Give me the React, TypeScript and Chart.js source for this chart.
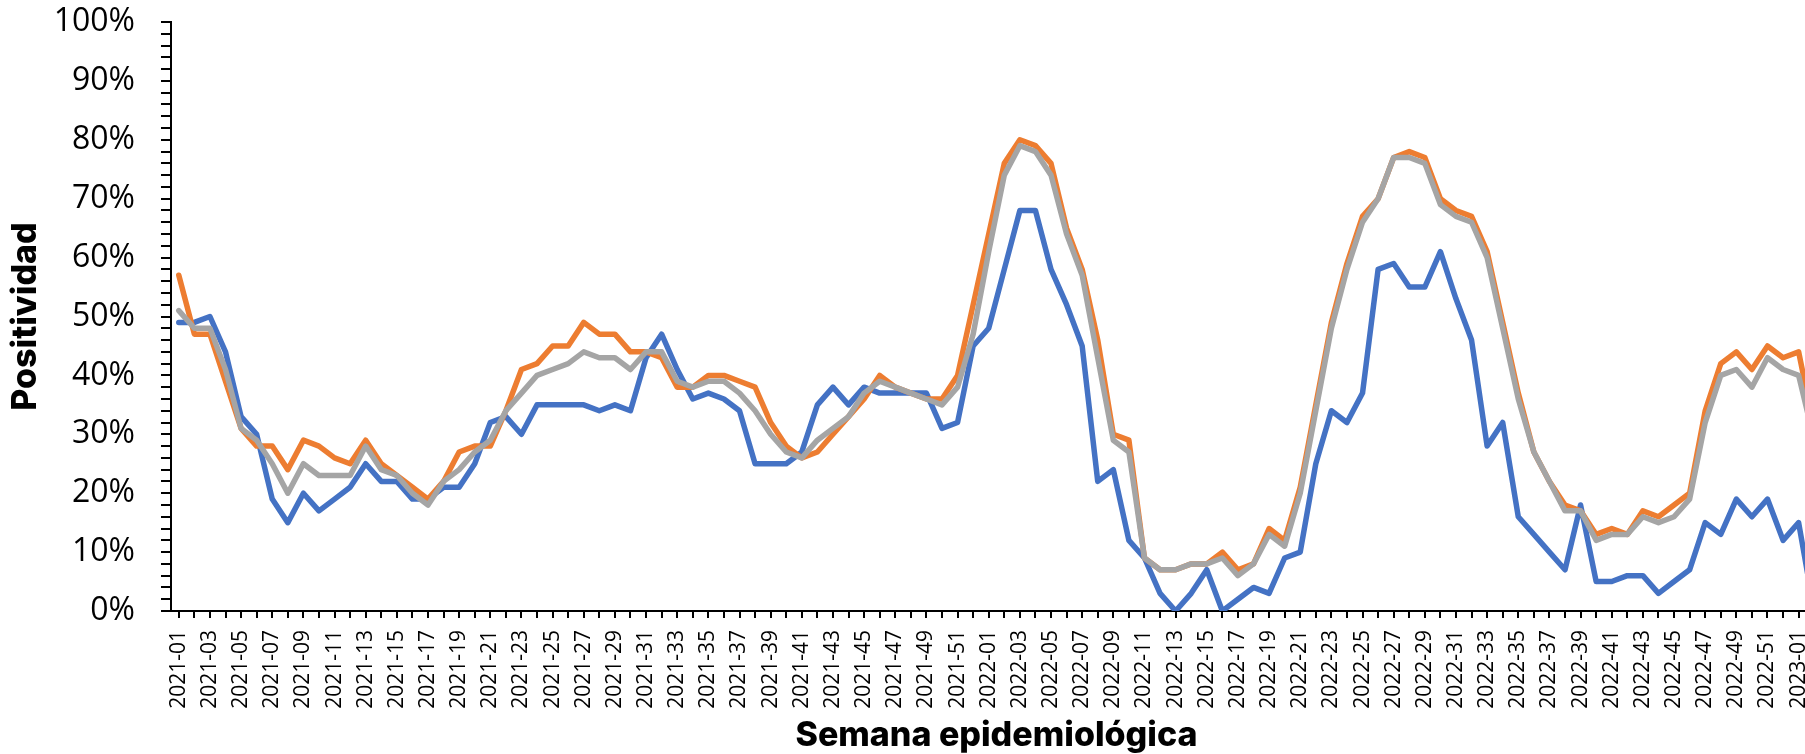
import { useEffect, useRef } from 'react';
import { Chart, registerables } from 'chart.js';

Chart.register(...registerables);

const CATEGORIES = [
  '2021-01','2021-02','2021-03','2021-04','2021-05','2021-06','2021-07','2021-08','2021-09','2021-10',
  '2021-11','2021-12','2021-13','2021-14','2021-15','2021-16','2021-17','2021-18','2021-19','2021-20',
  '2021-21','2021-22','2021-23','2021-24','2021-25','2021-26','2021-27','2021-28','2021-29','2021-30',
  '2021-31','2021-32','2021-33','2021-34','2021-35','2021-36','2021-37','2021-38','2021-39','2021-40',
  '2021-41','2021-42','2021-43','2021-44','2021-45','2021-46','2021-47','2021-48','2021-49','2021-50',
  '2021-51','2021-52',
  '2022-01','2022-02','2022-03','2022-04','2022-05','2022-06','2022-07','2022-08','2022-09','2022-10',
  '2022-11','2022-12','2022-13','2022-14','2022-15','2022-16','2022-17','2022-18','2022-19','2022-20',
  '2022-21','2022-22','2022-23','2022-24','2022-25','2022-26','2022-27','2022-28','2022-29','2022-30',
  '2022-31','2022-32','2022-33','2022-34','2022-35','2022-36','2022-37','2022-38','2022-39','2022-40',
  '2022-41','2022-42','2022-43','2022-44','2022-45','2022-46','2022-47','2022-48','2022-49','2022-50',
  '2022-51','2022-52',
  '2023-01','2023-02',
];

const SERIES_BLUE = [
  49, 49, 50, 44, 33, 30, 19, 15, 20, 17,
  19, 21, 25, 22, 22, 19, 19, 21, 21, 25,
  32, 33, 30, 35, 35, 35, 35, 34, 35, 34,
  43, 47, 41, 36, 37, 36, 34, 25, 25, 25,
  27, 35, 38, 35, 38, 37, 37, 37, 37, 31,
  32, 45, 48, 58, 68, 68, 58, 52, 45, 22,
  24, 12, 9, 3, 0, 3, 7, 0, 2, 4,
  3, 9, 10, 25, 34, 32, 37, 58, 59, 55,
  55, 61, 53, 46, 28, 32, 16, 13, 10, 7,
  18, 5, 5, 6, 6, 3, 5, 7, 15, 13,
  19, 16, 19, 12, 15, 0,
];

const SERIES_ORANGE = [
  57, 47, 47, 39, 31, 28, 28, 24, 29, 28,
  26, 25, 29, 25, 23, 21, 19, 22, 27, 28,
  28, 34, 41, 42, 45, 45, 49, 47, 47, 44,
  44, 43, 38, 38, 40, 40, 39, 38, 32, 28,
  26, 27, 30, 33, 36, 40, 38, 37, 36, 36,
  40, 52, 64, 76, 80, 79, 76, 65, 58, 46,
  30, 29, 9, 7, 7, 8, 8, 10, 7, 8,
  14, 12, 21, 35, 49, 59, 67, 70, 77, 78,
  77, 70, 68, 67, 61, 49, 37, 27, 22, 18,
  17, 13, 14, 13, 17, 16, 18, 20, 34, 42,
  44, 41, 45, 43, 44, 31,
];

const SERIES_GRAY = [
  51, 48, 48, 41, 31, 29, 25, 20, 25, 23,
  23, 23, 28, 24, 23, 20, 18, 22, 24, 27,
  29, 34, 37, 40, 41, 42, 44, 43, 43, 41,
  44, 44, 39, 38, 39, 39, 37, 34, 30, 27,
  26, 29, 31, 33, 37, 39, 38, 37, 36, 35,
  38, 47, 61, 74, 79, 78, 74, 64, 57, 43,
  29, 27, 9, 7, 7, 8, 8, 9, 6, 8,
  13, 11, 20, 34, 48, 58, 66, 70, 77, 77,
  76, 69, 67, 66, 60, 48, 36, 27, 22, 17,
  17, 12, 13, 13, 16, 15, 16, 19, 32, 40,
  41, 38, 43, 41, 40, 29,
];

const X_TITLE = 'Semana epidemiológica';
const Y_TITLE = 'Positividad';

const CANVAS_W = 1822;
const CANVAS_H = 760;
const PLOT_LEFT = 171;
const PLOT_BOTTOM = 611;

export default function App() {
  const ref = useRef<HTMLCanvasElement>(null);

  useEffect(() => {
    if (!ref.current) return;
    const tickFont = "'Open Sans', 'Liberation Sans', sans-serif";
    const titleFont = "Inter, 'Open Sans', sans-serif";
    const line = (label: string, data: number[], color: string, order: number) => ({
      label,
      data,
      borderColor: color,
      backgroundColor: color,
      borderWidth: 5.5,
      pointRadius: 0,
      tension: 0,
      fill: false,
      borderJoinStyle: 'round',
      borderCapStyle: 'round',
      order,
    });
    const chart = new Chart(ref.current, {
      type: 'line',
      data: {
        labels: CATEGORIES,
        datasets: [
          line('Serie 1', SERIES_BLUE, '#4472C4', 3),
          line('Serie 2', SERIES_ORANGE, '#ED7D31', 2),
          line('Serie 3', SERIES_GRAY, '#A5A5A5', 1),
        ],
      },
      options: {
        responsive: false,
        animation: false,
        layout: { padding: { top: 22, left: 0, right: 0, bottom: 0 } },
        plugins: {
          legend: { display: false },
          tooltip: { enabled: false },
        },
        scales: {
          x: {
            type: 'category',
            offset: true,
            grid: {
              display: true,
              offset: false,
              drawOnChartArea: false,
              drawTicks: true,
              tickLength: 7,
              color: '#000',
              lineWidth: 2,
            },
            border: { display: true, color: '#000', width: 2 },
            ticks: {
              autoSkip: false,
              maxRotation: 90,
              minRotation: 90,
              padding: 12,
              color: '#000',
              font: { family: tickFont, size: 21 },
              callback: (_v: any, i: number) => (i % 2 === 0 ? CATEGORIES[i] : ''),
            },
            title: {
              display: true,
              text: X_TITLE,
              color: '#000',
              font: { family: titleFont, size: 34, weight: '800' },
              padding: { top: 0, bottom: 4 },
            },
            afterFit: (s: any) => {
              s.height = CANVAS_H - PLOT_BOTTOM;
              s.paddingLeft = 0;
              s.paddingRight = 0;
            },
          },
          y: {
            min: 0,
            max: 100,
            grid: {
              display: true,
              drawOnChartArea: false,
              drawTicks: true,
              tickLength: 10,
              color: '#000',
              lineWidth: 2,
            },
            border: { display: true, color: '#000', width: 2 },
            ticks: {
              stepSize: 2,
              autoSkip: false,
              padding: 26,
              color: '#000',
              font: { family: tickFont, size: 32 },
              callback: (v: any) => (Number(v) % 10 === 0 ? `${v}%` : ''),
            },
            title: {
              display: true,
              text: Y_TITLE,
              color: '#000',
              font: { family: titleFont, size: 34, weight: '800' },
              padding: { top: 5, bottom: 0 },
            },
            afterFit: (s: any) => {
              s.width = PLOT_LEFT;
              s.paddingTop = 0;
              s.paddingBottom = 0;
            },
          },
        },
      },
    } as any);
    return () => chart.destroy();
  }, []);

  return (
    <div
      style={{
        position: 'fixed',
        left: 0,
        top: 0,
        width: 1805,
        height: 754,
        overflow: 'hidden',
        background: '#fff',
      }}
    >
      <canvas
        ref={ref}
        width={CANVAS_W}
        height={CANVAS_H}
        style={{ width: CANVAS_W, height: CANVAS_H, display: 'block' }}
      />
    </div>
  );
}
